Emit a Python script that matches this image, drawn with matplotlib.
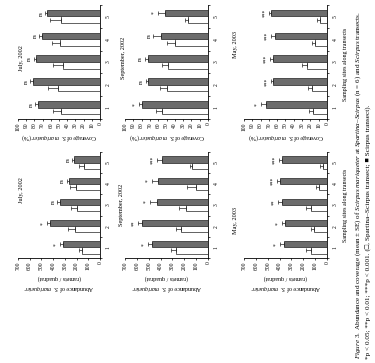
import numpy as np
import matplotlib
matplotlib.use("Agg")
import matplotlib.pyplot as plt

plt.rcParams["font.family"] = ["Liberation Serif", "DejaVu Sans"]
plt.rcParams["mathtext.fontset"] = "custom"
plt.rcParams["mathtext.rm"] = "Liberation Serif"
plt.rcParams["mathtext.it"] = "Liberation Serif:italic"

W, H = 375, 363

sites = [1, 2, 3, 4, 5]
months = ["July, 2002", "September, 2002", "May, 2003"]

# Coverage (%) — Spartina–Scirpus transect (open) and Scirpus transect (filled)
cov_mixed = [[47, 51, 45, 49, 47], [56, 50, 48, 40, 24], [17, 18, 24, 14, 8]]
cov_mixed_se = [[10, 12, 12, 10, 14], [7, 8, 8, 10, 4], [5, 5, 6, 4, 4]]
cov_scirpus = [[75, 82, 78, 71, 65], [80, 72, 72, 57, 52], [73, 65, 65, 63, 67]]
cov_scirpus_se = [[4, 3, 3, 3, 2], [3, 3, 4, 9, 8], [6, 2, 4, 4, 3]]
cov_sig = [["ns", "ns", "ns", "ns", "ns"], ["*", "ns", "ns", "ns", "*"],
           ["*", "***", "***", "***", "***"]]

# Abundance (ramets / quadrat)
ab_mixed = [[150, 216, 193, 207, 138], [273, 231, 188, 103, 131], [137, 111, 137, 68, 37]]
ab_mixed_se = [[30, 60, 58, 50, 42], [42, 42, 60, 70, 20], [42, 26, 42, 26, 22]]
ab_scirpus = [[315, 423, 343, 268, 225], [473, 558, 430, 419, 387], [365, 350, 379, 393, 379]]
ab_scirpus_se = [[25, 30, 23, 17, 12], [30, 32, 57, 54, 40], [28, 29, 31, 25, 23]]
ab_sig = [["*", "*", "ns", "ns", "ns"], ["*", "**", "*", "*", "***"],
          ["*", "*", "**", "***", "***"]]

cov_ticks = list(range(0, 101, 10))
ab_ticks = list(range(0, 701, 100))

# panel extents in pixels: (left, right) per column, (top, bottom) per row
col_x = [(18, 100), (125, 208), (244, 327)]
row_cov = (5, 119)
row_ab = (152, 258)

fig = plt.figure(figsize=(W / 100, H / 100), dpi=100)
fig.patch.set_facecolor("white")


def px_axes(x0, x1, y0, y1):
    return fig.add_axes([x0 / W, 1 - y1 / H, (x1 - x0) / W, (y1 - y0) / H])


def ftext(x, y, s, **kw):
    fig.text(x / W, 1 - y / H, s, **kw)


def panel(ax, mixed, mixed_se, scir, scir_se, sig, ticks, vmax):
    y = np.array(sites, dtype=float)
    hgt = 0.29
    ax.barh(y + hgt / 2, scir, height=hgt, color="#6c6c6c", edgecolor="#222222",
            linewidth=0.5)
    ax.barh(y - hgt / 2, mixed, height=hgt, color="white", edgecolor="#222222",
            linewidth=0.5)
    ax.errorbar(scir, y + hgt / 2, xerr=[np.zeros(5), scir_se], fmt="none",
                ecolor="#222222", elinewidth=0.5, capsize=1.5, capthick=0.5)
    ax.errorbar(mixed, y - hgt / 2, xerr=[np.zeros(5), mixed_se], fmt="none",
                ecolor="#222222", elinewidth=0.5, capsize=1.5, capthick=0.5)
    for yi, v, e, s in zip(y, scir, scir_se, sig):
        ax.text(v + e + vmax * 0.05, yi + hgt / 2, s, rotation=90, ha="center",
                va="center", fontsize=4)
    ax.set_xlim(vmax, 0)
    ax.set_ylim(0.5, 5.5)
    ax.set_xticks(ticks)
    ax.set_xticklabels([str(t) for t in ticks], rotation=90, fontsize=4)
    ax.set_yticks([0.5, 1.5, 2.5, 3.5, 4.5, 5.5])
    ax.set_yticklabels([])
    ax.set_yticks(sites, minor=True)
    ax.set_yticklabels([str(s) for s in sites], minor=True, rotation=90,
                       fontsize=4, va="center")
    ax.yaxis.tick_right()
    ax.yaxis.set_ticks_position("right")
    ax.tick_params(axis="y", which="major", length=1.5, width=0.5, direction="out")
    ax.tick_params(axis="y", which="minor", length=0, pad=4)
    ax.tick_params(axis="x", length=1.5, width=0.5, pad=1)
    for sp in ("left", "top"):
        ax.spines[sp].set_visible(False)
    for sp in ("right", "bottom"):
        ax.spines[sp].set_linewidth(0.6)
    ax.set_facecolor("none")


cov_label = r"Coverage of $\it{S.\ mariqueter}$ (%)"
ab_label = "Abundance of $\\it{S.\\ mariqueter}$\n(ramets / quadrat)"
title_pos_cov = [(22, 58), (124, 58), (235, 44)]
title_pos_ab = [(21, 190), (121, 205), (235, 220)]

for i in range(3):
    x0, x1 = col_x[i]
    axc = px_axes(x0, x1, *row_cov)
    panel(axc, cov_mixed[i], cov_mixed_se[i], cov_scirpus[i], cov_scirpus_se[i],
          cov_sig[i], cov_ticks, 100)
    axa = px_axes(x0, x1, *row_ab)
    panel(axa, ab_mixed[i], ab_mixed_se[i], ab_scirpus[i], ab_scirpus_se[i],
          ab_sig[i], ab_ticks, 700)
    ftext((x0 + x1) / 2, 137, cov_label, rotation=180, ha="center", va="center",
          fontsize=4.3)
    ftext((x0 + x1) / 2, 284, ab_label, rotation=180, ha="center", va="center",
          fontsize=4.3, linespacing=1.3)
    ftext(*title_pos_cov[i], months[i], rotation=90, ha="center", va="center",
          fontsize=4.5)
    ftext(*title_pos_ab[i], months[i], rotation=90, ha="center", va="center",
          fontsize=4.5)

ftext(345, 64, "Sampling sites along transects", rotation=90, ha="center",
      va="center", fontsize=4.3)
ftext(345, 205, "Sampling sites along transects", rotation=90, ha="center",
      va="center", fontsize=4.3)

cap1 = (r"$\it{Figure\ 3.}$ Abundance and coverage (mean $\pm$ SE) of "
        r"$\it{Scirpus\ mariqueter}$ at $\it{Spartina}$–$\it{Scirpus}$ (n = 6) "
        r"and $\it{Scirpus}$ transects.")
cap2 = ("*p < 0.05; **p < 0.01; ***p < 0.001. (□, Spartina–Scirpus transect; "
        "■ Scirpus transect).")
ftext(358, 359, cap1, rotation=90, ha="center", va="bottom", fontsize=5.1)
ftext(368, 359, cap2, rotation=90, ha="center", va="bottom", fontsize=5.2)

fig.savefig("out.png", dpi=100, facecolor="white")
